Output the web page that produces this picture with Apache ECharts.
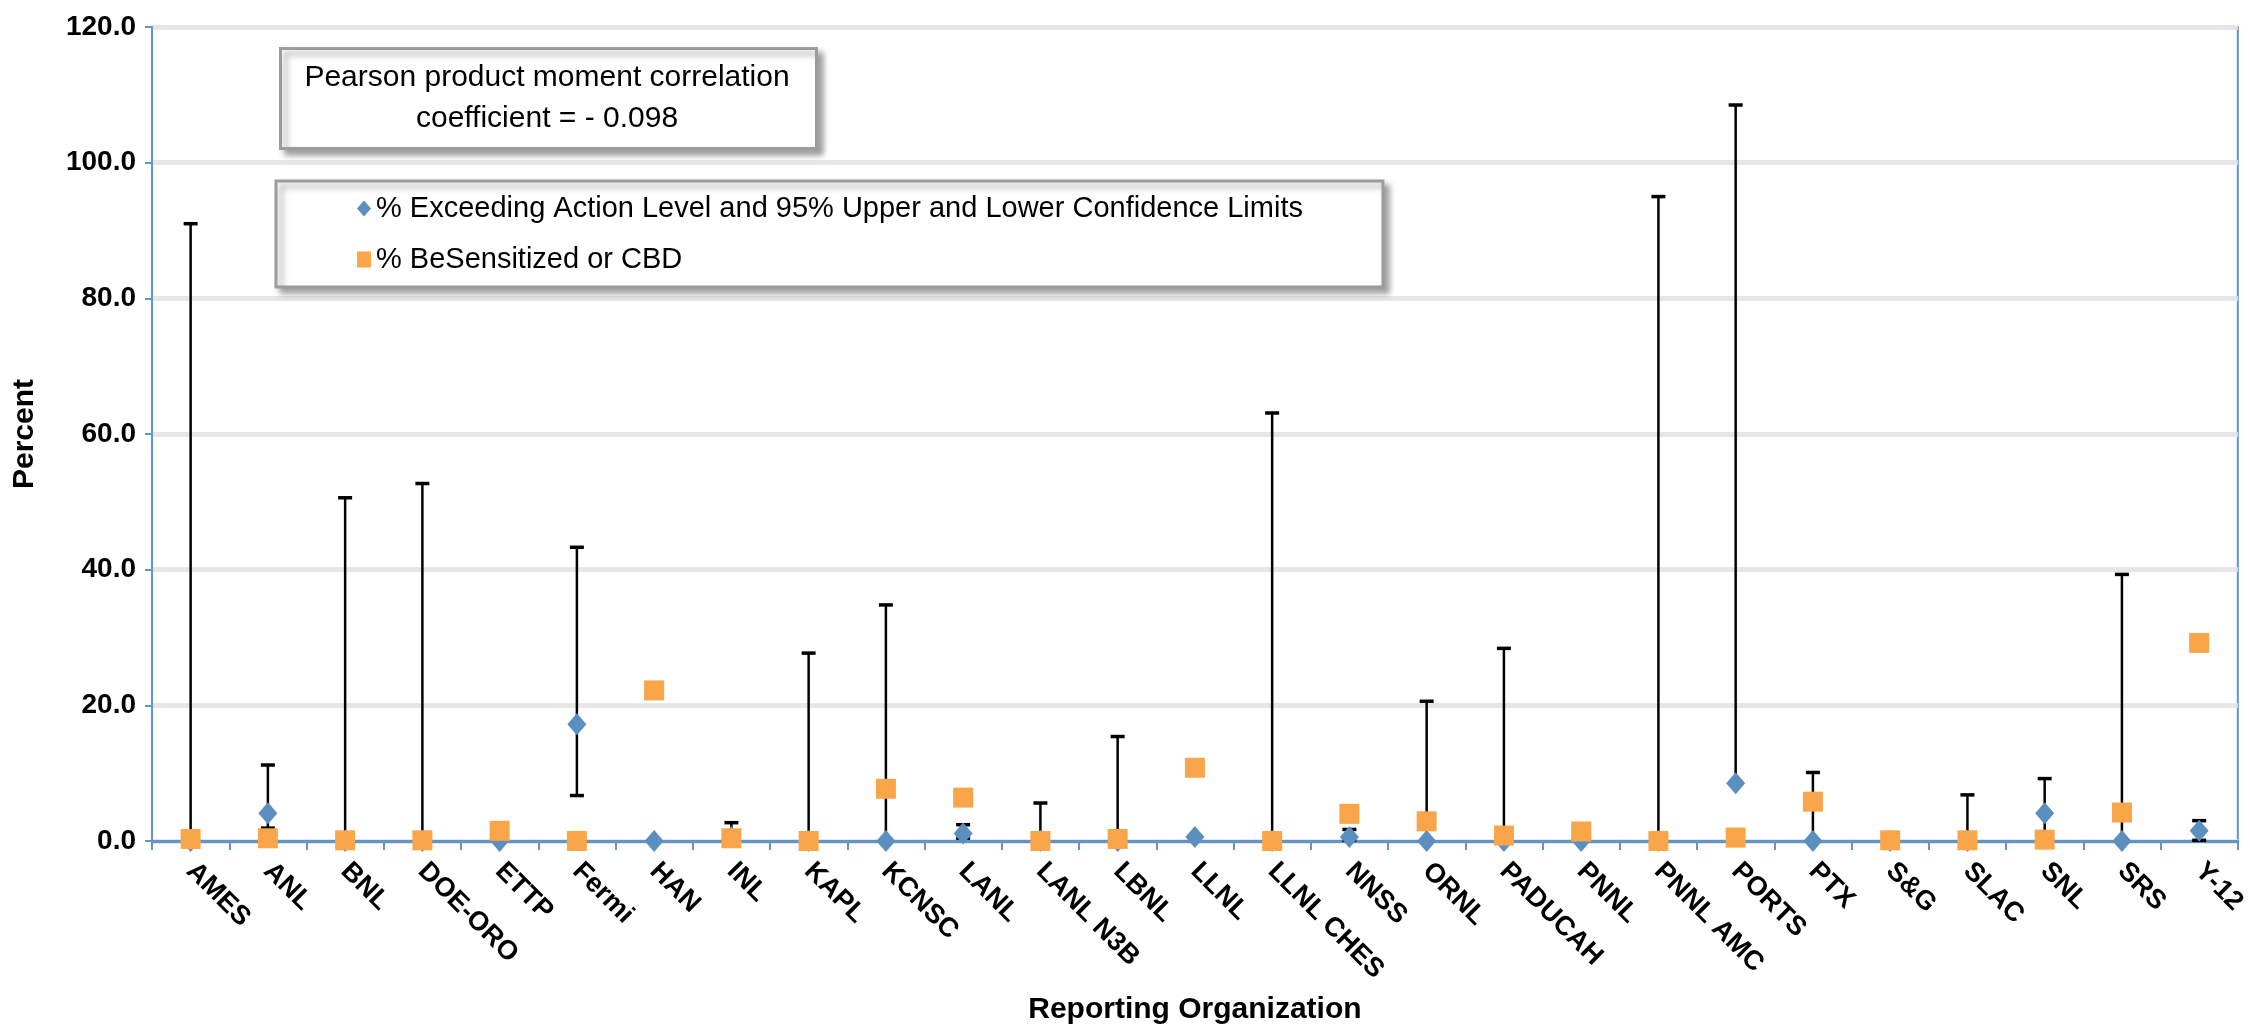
<!DOCTYPE html>
<html>
<head>
<meta charset="utf-8">
<script src="https://cdn.jsdelivr.net/npm/echarts@6/dist/echarts.min.js"></script>
<style>
  html, body { margin: 0; padding: 0; background: #fff; }
  #main { width: 2250px; height: 1032px; }
</style>
</head>
<body>
<div id="main"></div>
<script>
// categories (reporting organizations)
var categories = ['AMES', 'ANL', 'BNL', 'DOE-ORO', 'ETTP', 'Fermi', 'HAN', 'INL', 'KAPL', 'KCNSC',
  'LANL', 'LANL N3B', 'LBNL', 'LLNL', 'LLNL CHES', 'NNSS', 'ORNL', 'PADUCAH', 'PNNL', 'PNNL AMC',
  'PORTS', 'PTX', 'S&G', 'SLAC', 'SNL', 'SRS', 'Y-12'];

// % exceeding action level (diamonds)
var exceedPct = [0, 4.1, 0, 0, 0, 17.2, 0, 0.6, 0, 0,
  1.1, 0, 0, 0.6, 0, 0.6, 0, 0, 0, 0,
  8.5, 0, 0, 0, 4.1, 0, 1.5];

// 95% lower / upper confidence limits (null = no bar)
var lowerCL = [0, 1.9, 0, 0, null, 6.7, null, 0.1, 0, 0,
  0.4, 0, 0, null, 0, 0.1, 0, 0, null, 0,
  8.4, 0, null, 0, 0.4, 0, 0.1];
var upperCL = [91.0, 11.2, 50.6, 52.7, null, 43.3, null, 2.7, 27.7, 34.8,
  2.4, 5.6, 15.4, null, 63.1, 1.7, 20.6, 28.4, null, 95.0,
  108.5, 10.1, null, 6.8, 9.2, 39.3, 3.0];

// % BeSensitized or CBD (squares)
var sensitizedPct = [0.3, 0.4, 0.1, 0.1, 1.5, 0, 22.2, 0.4, 0, 7.7,
  6.4, 0, 0.3, 10.8, 0, 4.0, 2.9, 0.8, 1.4, 0,
  0.5, 5.8, 0.1, 0.1, 0.2, 4.2, 29.2];

var yTicks = [0, 20, 40, 60, 80, 100, 120];

var FONT = '"Liberation Sans", Arial, sans-serif';
var AXIS_BLUE = '#5F95CA';
var NAME_EXCEED = '% Exceeding Action Level and 95% Upper and Lower Confidence Limits';
var NAME_SENS = '% BeSensitized or CBD';

var errData = [];
categories.forEach(function (c, i) {
  if (upperCL[i] != null) errData.push([i, lowerCL[i], upperCL[i]]);
});

var myChart = echarts.init(document.getElementById('main'));

var option = {
  backgroundColor: '#fff',
  animation: false,
  textStyle: { fontFamily: FONT },
  grid: {
    left: 152, right: 6, top: 27, bottom: 191,
    show: true, borderColor: AXIS_BLUE, borderWidth: 2, backgroundColor: 'transparent'
  },
  legend: {
    left: 276, top: 181,
    orient: 'vertical',
    data: [
      { name: NAME_EXCEED, icon: 'diamond' },
      { name: NAME_SENS, icon: 'rect' }
    ],
    itemWidth: 14, itemHeight: 16, itemGap: 20,
    padding: [12, 80, 12, 81],
    backgroundColor: '#fff',
    borderColor: '#9c9c9c', borderWidth: 3,
    shadowBlur: 6, shadowColor: 'rgba(0,0,0,0.35)', shadowOffsetX: 5, shadowOffsetY: 5,
    textStyle: { fontFamily: FONT, fontSize: 29, color: '#000', lineHeight: 31 }
  },
  graphic: [
    {
      type: 'rect', left: 279, top: 47, z: 100,
      shape: { width: 536, height: 100 },
      style: {
        fill: '#fff', stroke: '#9c9c9c', lineWidth: 3,
        shadowBlur: 6, shadowColor: 'rgba(0,0,0,0.35)', shadowOffsetX: 5, shadowOffsetY: 5
      }
    },
    {
      type: 'text', x: 547, y: 98, z: 101,
      style: {
        text: 'Pearson product moment correlation\ncoefficient = - 0.098',
        fill: '#000', font: '30px ' + FONT, lineHeight: 41,
        align: 'center', verticalAlign: 'middle'
      }
    }
  ],
  xAxis: {
    type: 'category',
    data: categories,
    boundaryGap: true,
    name: 'Reporting Organization',
    nameLocation: 'middle',
    nameGap: 154,
    nameTextStyle: { fontFamily: FONT, fontSize: 30, fontWeight: 'bold', color: '#000' },
    axisLine: { lineStyle: { color: AXIS_BLUE, width: 3 } },
    axisTick: { show: true, length: 9, lineStyle: { color: AXIS_BLUE, width: 2 } },
    axisLabel: {
      rotate: -45, margin: 26, interval: 0,
      fontFamily: FONT, fontSize: 27, fontWeight: 'bold', color: '#000'
    },
    splitLine: { show: false }
  },
  yAxis: {
    type: 'value',
    min: yTicks[0], max: yTicks[yTicks.length - 1], interval: 20,
    name: 'Percent',
    nameLocation: 'middle',
    nameGap: 112,
    nameTextStyle: { fontFamily: FONT, fontSize: 30, fontWeight: 'bold', color: '#000' },
    axisLine: { show: true, lineStyle: { color: AXIS_BLUE, width: 2 } },
    axisTick: { show: true, length: 7, lineStyle: { color: AXIS_BLUE, width: 2 } },
    axisLabel: {
      margin: 16,
      fontFamily: FONT, fontSize: 28, fontWeight: 'bold', color: '#000',
      formatter: function (v) { return v.toFixed(1); }
    },
    splitLine: { show: true, lineStyle: { color: '#e6e6e6', width: 5 } }
  },
  series: [
    {
      // confidence limits
      type: 'custom',
      name: 'CL',
      z: 2,
      encode: { x: 0, y: [1, 2] },
      data: errData,
      renderItem: function (params, api) {
        var lo = api.coord([api.value(0), api.value(1)]);
        var hi = api.coord([api.value(0), api.value(2)]);
        var cap = 7;
        var st = { stroke: '#000', lineWidth: 2.5 };
        return {
          type: 'group',
          children: [
            { type: 'line', shape: { x1: lo[0], y1: lo[1], x2: hi[0], y2: hi[1] }, style: st },
            { type: 'line', shape: { x1: hi[0] - cap, y1: hi[1], x2: hi[0] + cap, y2: hi[1] }, style: { stroke: '#000', lineWidth: 3.5 } },
            { type: 'line', shape: { x1: lo[0] - cap, y1: lo[1], x2: lo[0] + cap, y2: lo[1] }, style: { stroke: '#000', lineWidth: 3.5 } }
          ]
        };
      }
    },
    {
      type: 'scatter',
      name: NAME_EXCEED,
      z: 3,
      symbol: 'diamond',
      symbolSize: [19, 22],
      itemStyle: { color: '#5B8FC0', opacity: 1 },
      data: exceedPct
    },
    {
      type: 'scatter',
      name: NAME_SENS,
      z: 4,
      symbol: 'rect',
      symbolSize: [20, 20],
      itemStyle: { color: '#F9A54A', opacity: 1 },
      data: sensitizedPct
    }
  ]
};

myChart.setOption(option);
</script>
</body>
</html>
